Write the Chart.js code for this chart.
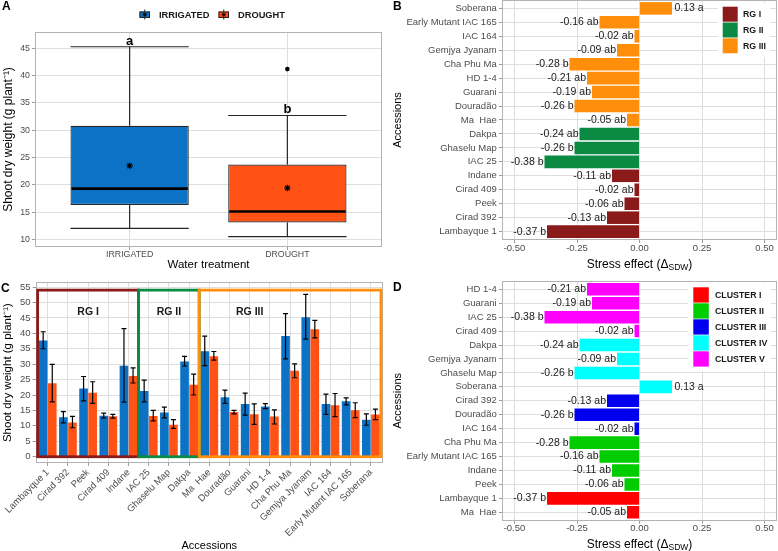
<!DOCTYPE html>
<html>
<head>
<meta charset="utf-8">
<title>Shoot dry weight and drought stress effect</title>
<script src="https://cdn.jsdelivr.net/npm/chart.js@4.4.1/dist/chart.umd.min.js"></script>
<style>
  html, body { margin:0; padding:0; background:#ffffff; }
  body { position:relative; width:778px; height:551px; overflow:hidden; }
  canvas { position:absolute; }
</style>
</head>
<body>
<canvas id="panelA" width="389" height="272" style="left:0;top:0"></canvas>
<canvas id="panelB" width="389" height="272" style="left:389px;top:0"></canvas>
<canvas id="panelC" width="389" height="283" style="left:0;top:270px"></canvas>
<canvas id="panelD" width="389" height="283" style="left:389px;top:270px"></canvas>
<script>
// ---------------- Panel A : boxplot summary ----------------
const treatments = ['IRRIGATED', 'DROUGHT'];
const sdwMin = [12.0, 10.5];
const sdwQ1 = [16.3, 13.1];
const sdwMedian = [19.3, 15.1];
const sdwQ3 = [30.8, 23.7];
const sdwMax = [45.3, 32.7];
const sdwMean = [23.5, 19.4];
const sdwOutliers = [[], [41.2]];
const treatmentLetters = ['a', 'b'];
const sdwTicks = [10, 15, 20, 25, 30, 35, 40, 45];

// ---------------- Panel C : accession means ± error ----------------
const accessionsC = ['Lambayque 1', 'Cirad 392', 'Peek', 'Cirad 409', 'Indane', 'IAC 25', 'Ghaselu Map', 'Dakpa',
  'Ma  Hae', 'Douradão', 'Guarani', 'HD 1-4', 'Cha Phu Ma', 'Gemjya Jyanam', 'IAC 164', 'Early Mutant IAC 165', 'Soberana'];
const groupC = [0, 0, 0, 0, 0, 1, 1, 1, 2, 2, 2, 2, 2, 2, 2, 2, 2];
const irrigatedMean = [37.7, 12.8, 22.1, 13.3, 29.5, 21.3, 14.3, 30.9, 34.2, 19.3, 17.1, 16.3, 39.1, 45.2, 17.1, 18.0, 12.0];
const irrigatedLow  = [35.0, 11.0, 18.1, 12.5, 17.7, 17.8, 12.6, 29.4, 29.5, 17.3, 13.5, 15.6, 31.7, 38.1, 13.7, 16.8, 10.2];
const irrigatedHigh = [40.5, 14.6, 26.0, 14.1, 41.5, 24.8, 16.1, 32.5, 39.1, 21.6, 20.6, 17.2, 46.4, 52.6, 20.3, 19.1, 13.9];
const droughtMean   = [23.8, 11.1, 20.7, 13.1, 26.2, 13.2, 10.4, 23.3, 32.6, 14.5, 13.8, 13.0, 27.9, 41.3, 16.7, 15.1, 13.7];
const droughtLow    = [17.8, 9.4, 17.3, 12.5, 23.9, 11.6, 9.2, 20.0, 31.3, 13.9, 10.5, 10.6, 25.6, 38.5, 13.0, 12.7, 12.0];
const droughtHigh   = [29.9, 13.1, 24.3, 13.7, 28.8, 15.0, 12.0, 26.8, 34.1, 15.0, 17.1, 15.2, 30.1, 44.2, 20.5, 17.5, 15.4];
const weightTicks = [0, 5, 10, 15, 20, 25, 30, 35, 40, 45, 50, 55];
const rgNames = ['RG I', 'RG II', 'RG III'];

// ---------------- Panel B : stress effect by RG ----------------
const accessionsB = ['Soberana', 'Early Mutant IAC 165', 'IAC 164', 'Gemjya Jyanam', 'Cha Phu Ma', 'HD 1-4', 'Guarani',
  'Douradão', 'Ma  Hae', 'Dakpa', 'Ghaselu Map', 'IAC 25', 'Indane', 'Cirad 409', 'Peek', 'Cirad 392', 'Lambayque 1'];
const stressB = [0.13, -0.16, -0.02, -0.09, -0.28, -0.21, -0.19, -0.26, -0.05, -0.24, -0.26, -0.38, -0.11, -0.02, -0.06, -0.13, -0.37];
const lettersB = ['a', 'ab', 'ab', 'ab', 'b', 'ab', 'ab', 'b', 'ab', 'ab', 'b', 'b', 'ab', 'ab', 'ab', 'ab', 'b'];
const groupB = [2, 2, 2, 2, 2, 2, 2, 2, 2, 1, 1, 1, 0, 0, 0, 0, 0];

// ---------------- Panel D : stress effect by cluster ----------------
const accessionsD = ['HD 1-4', 'Guarani', 'IAC 25', 'Cirad 409', 'Dakpa', 'Gemjya Jyanam', 'Ghaselu Map', 'Soberana',
  'Cirad 392', 'Douradão', 'IAC 164', 'Cha Phu Ma', 'Early Mutant IAC 165', 'Indane', 'Peek', 'Lambayque 1', 'Ma  Hae'];
const stressD = [-0.21, -0.19, -0.38, -0.02, -0.24, -0.09, -0.26, 0.13, -0.13, -0.26, -0.02, -0.28, -0.16, -0.11, -0.06, -0.37, -0.05];
const lettersD = ['ab', 'ab', 'b', 'ab', 'ab', 'ab', 'b', 'a', 'ab', 'b', 'ab', 'b', 'ab', 'ab', 'ab', 'b', 'ab'];
const clusterD = [4, 4, 4, 4, 3, 3, 3, 3, 2, 2, 2, 1, 1, 1, 1, 0, 0];
const clusterNames = ['CLUSTER I', 'CLUSTER II', 'CLUSTER III', 'CLUSTER IV', 'CLUSTER V'];
const stressTicks = [-0.5, -0.25, 0, 0.25, 0.5];

// ---------------- styles ----------------
const FONT = "'Liberation Sans', Arial, Helvetica, sans-serif";
Chart.defaults.font.family = FONT;
Chart.defaults.color = '#4d4d4d';
Chart.defaults.animation = false;
Chart.defaults.plugins.legend.display = false;
Chart.defaults.plugins.tooltip.enabled = false;

const GRID_COLOR = '#dedede';
const BORDER_COLOR = '#b3b3b3';
const TICK_COLOR = '#9a9a9a';
const IRR_COLOR = '#0b72c5';
const DRO_COLOR = '#ff5214';
const RG_COLORS = ['#8b1a1a', '#0b8a43', '#ff8e0b'];
const CLUSTER_COLORS = ['#ff0000', '#00cc00', '#0000ee', '#00ffff', '#ff00ff'];
const RG_ANNOT = { boxTop: 54, labelY: 47, labelX: [3, 7, 11] };

function zeroPad(s) { s.paddingLeft = 0; s.paddingRight = 0; s.paddingTop = 0; s.paddingBottom = 0; }
function fixWidth(w) { return s => { s.width = w; zeroPad(s); }; }
function fixHeight(h) { return s => { s.height = h; zeroPad(s); }; }
function setTicks(vals) { return s => { s.ticks = vals.map(v => ({ value: v })); }; }
function gridOpts() {
  return { color: GRID_COLOR, lineWidth: 1, drawTicks: true, tickLength: 3, tickColor: TICK_COLOR, tickWidth: 1, offset: false };
}

const framePlugin = {
  id: 'frame',
  afterDatasetsDraw(chart) {
    const { ctx, chartArea: a } = chart;
    ctx.save();
    ctx.strokeStyle = BORDER_COLOR; ctx.lineWidth = 1;
    ctx.strokeRect(Math.round(a.left) + 0.5, Math.round(a.top) + 0.5,
      Math.round(a.right - a.left) - 1, Math.round(a.bottom - a.top) - 1);
    ctx.restore();
  }
};

function panelLetter(t, x, y) {
  return {
    id: 'panelLetter',
    afterDraw(chart) {
      const c = chart.ctx;
      c.save(); c.font = 'bold 12px ' + FONT; c.fillStyle = '#000';
      c.textAlign = 'left'; c.textBaseline = 'alphabetic'; c.fillText(t, x, y); c.restore();
    }
  };
}

function drawStar(ctx, x, y, r) {
  const d = r * 0.7071;
  ctx.beginPath();
  ctx.moveTo(x - r, y); ctx.lineTo(x + r, y);
  ctx.moveTo(x, y - r); ctx.lineTo(x, y + r);
  ctx.moveTo(x - d, y - d); ctx.lineTo(x + d, y + d);
  ctx.moveTo(x - d, y + d); ctx.lineTo(x + d, y - d);
  ctx.stroke();
}

function line(ctx, x1, y1, x2, y2) { ctx.beginPath(); ctx.moveTo(x1, y1); ctx.lineTo(x2, y2); ctx.stroke(); }

// ---------------- Panel A ----------------
const boxplotPlugin = {
  id: 'boxplotExtras',
  afterDatasetsDraw(chart) {
    const { ctx } = chart; const ys = chart.scales.y;
    const meta = chart.getDatasetMeta(0);
    ctx.save();
    meta.data.forEach((bar, i) => {
      const cx = bar.x, half = bar.width / 2;
      const yMin = ys.getPixelForValue(sdwMin[i]), yMax = ys.getPixelForValue(sdwMax[i]);
      const yQ1 = ys.getPixelForValue(sdwQ1[i]), yQ3 = ys.getPixelForValue(sdwQ3[i]);
      ctx.strokeStyle = '#262626'; ctx.lineWidth = 1.2;
      line(ctx, cx, yQ3, cx, yMax); line(ctx, cx, yQ1, cx, yMin);
      line(ctx, cx - half, yMax, cx + half, yMax); line(ctx, cx - half, yMin, cx + half, yMin);
      ctx.strokeStyle = '#000'; ctx.lineWidth = 2.6;
      const yMed = ys.getPixelForValue(sdwMedian[i]);
      line(ctx, cx - half + 1, yMed, cx + half - 1, yMed);
      ctx.lineWidth = 1.1;
      drawStar(ctx, cx, ys.getPixelForValue(sdwMean[i]), 3.3);
      ctx.fillStyle = '#000';
      sdwOutliers[i].forEach(v => {
        ctx.beginPath(); ctx.arc(cx, ys.getPixelForValue(v), 2.3, 0, Math.PI * 2); ctx.fill();
      });
      ctx.font = 'bold 13px ' + FONT; ctx.textAlign = 'center'; ctx.textBaseline = 'alphabetic';
      ctx.fillText(treatmentLetters[i], cx, yMax - 2);
    });
    ctx.restore();
  }
};

const legendA = {
  id: 'legendA',
  afterDraw(chart) {
    const ctx = chart.ctx;
    const items = [{ x: 139.5, tx: 159, color: IRR_COLOR }, { x: 218.5, tx: 238, color: DRO_COLOR }];
    ctx.save();
    items.forEach((it, i) => {
      ctx.strokeStyle = '#222'; ctx.lineWidth = 1;
      line(ctx, it.x + 5.25, 9.5, it.x + 5.25, 19.5);
      ctx.fillStyle = it.color; ctx.fillRect(it.x, 11.5, 10.5, 6.5);
      ctx.strokeRect(it.x + 0.5, 12, 9.5, 5.5);
      ctx.strokeStyle = '#000'; ctx.lineWidth = 0.9;
      drawStar(ctx, it.x + 5.25, 14.7, 2.2);
      ctx.fillStyle = '#1a1a1a'; ctx.font = 'bold 9.3px ' + FONT;
      ctx.textAlign = 'left'; ctx.textBaseline = 'middle';
      ctx.fillText(treatments[i], it.tx, 15);
    });
    ctx.restore();
  }
};

new Chart(document.getElementById('panelA'), {
  type: 'bar',
  data: {
    labels: treatments,
    datasets: [{
      label: 'Shoot dry weight',
      data: treatments.map((t, i) => ({ x: i + 1, y: [sdwQ1[i], sdwQ3[i]] })),
      backgroundColor: [IRR_COLOR, DRO_COLOR],
      borderColor: '#262626', borderWidth: 1.2, borderSkipped: false,
      categoryPercentage: 0.75, barPercentage: 1
    }]
  },
  options: {
    responsive: false,
    layout: { padding: { top: 32, right: 7, bottom: 0, left: 0 } },
    scales: {
      x: {
        type: 'linear', min: 0.4, max: 2.6, offset: false,
        afterBuildTicks: setTicks(treatments.map((t, i) => i + 1)),
        afterFit: fixHeight(25),
        grid: gridOpts(), border: { display: false },
        ticks: { autoSkip: false, maxRotation: 0, padding: 0, font: { size: 8.8, lineHeight: 1 },
          callback: v => treatments[Math.round(v) - 1] },
        title: { display: true, text: 'Water treatment', color: '#000', font: { size: 11.5 }, padding: { top: 0, bottom: 0 } }
      },
      y: {
        type: 'linear', min: 8.6, max: 48,
        afterBuildTicks: setTicks(sdwTicks), afterFit: fixWidth(35),
        grid: gridOpts(), border: { display: false },
        ticks: { padding: 2, font: { size: 8.8 }, callback: v => String(v) },
        title: { display: true, text: 'Shoot dry weight (g plant⁻¹)', color: '#000', font: { size: 12 }, padding: { top: 1.1, bottom: 0 } }
      }
    }
  },
  plugins: [framePlugin, boxplotPlugin, legendA, panelLetter('A', 2, 10)]
});

// ---------------- Panel C ----------------
const rgBoxesPlugin = {
  id: 'rgBoxes',
  afterDatasetsDraw(chart) {
    const { ctx } = chart, xs = chart.scales.x, ys = chart.scales.y;
    ctx.save();
    rgNames.forEach((name, g) => {
      const idx = groupC.map((v, i) => v === g ? i + 1 : null).filter(v => v !== null);
      const first = Math.min(...idx), last = Math.max(...idx);
      const x0 = xs.getPixelForValue(first - 0.5), x1 = xs.getPixelForValue(last + 0.5);
      const y0 = ys.getPixelForValue(0), y1 = ys.getPixelForValue(RG_ANNOT.boxTop);
      ctx.strokeStyle = RG_COLORS[g]; ctx.lineWidth = 2.8;
      ctx.strokeRect(x0, y1, x1 - x0, y0 - y1);
    });
    rgNames.forEach((name, g) => {
      ctx.fillStyle = '#1a1a1a'; ctx.font = 'bold 10.5px ' + FONT;
      ctx.textAlign = 'center'; ctx.textBaseline = 'middle';
      ctx.fillText(name, xs.getPixelForValue(RG_ANNOT.labelX[g]), ys.getPixelForValue(RG_ANNOT.labelY));
    });
    ctx.restore();
  }
};

const errorBarPlugin = {
  id: 'errorBars',
  afterDatasetsDraw(chart) {
    const { ctx } = chart; const ys = chart.scales.y;
    const lows = [irrigatedLow, droughtLow], highs = [irrigatedHigh, droughtHigh];
    ctx.save(); ctx.strokeStyle = '#000'; ctx.lineWidth = 1.2;
    chart.data.datasets.forEach((ds, d) => {
      chart.getDatasetMeta(d).data.forEach((bar, i) => {
        const x = bar.x, y1 = ys.getPixelForValue(lows[d][i]), y2 = ys.getPixelForValue(highs[d][i]);
        ctx.beginPath();
        ctx.moveTo(x, y1); ctx.lineTo(x, y2);
        ctx.moveTo(x - 2.5, y1); ctx.lineTo(x + 2.5, y1);
        ctx.moveTo(x - 2.5, y2); ctx.lineTo(x + 2.5, y2);
        ctx.stroke();
      });
    });
    ctx.restore();
  }
};

new Chart(document.getElementById('panelC'), {
  type: 'bar',
  data: {
    labels: accessionsC,
    datasets: [
      { label: 'IRRIGATED', data: accessionsC.map((n, i) => ({ x: i + 1, y: irrigatedMean[i] })),
        backgroundColor: IRR_COLOR, borderWidth: 0, categoryPercentage: 0.9, barPercentage: 0.95 },
      { label: 'DROUGHT', data: accessionsC.map((n, i) => ({ x: i + 1, y: droughtMean[i] })),
        backgroundColor: DRO_COLOR, borderWidth: 0, categoryPercentage: 0.9, barPercentage: 0.95 }
    ]
  },
  options: {
    responsive: false,
    layout: { padding: { top: 12.4, right: 6, bottom: 0, left: 0 } },
    scales: {
      x: {
        type: 'linear', min: 0.4, max: accessionsC.length + 0.6, offset: false,
        afterBuildTicks: setTicks(accessionsC.map((n, i) => i + 1)),
        afterFit: fixHeight(90.1),
        grid: gridOpts(), border: { display: false },
        ticks: { autoSkip: false, minRotation: 45, maxRotation: 45, padding: 1, font: { size: 9.5 },
          callback: v => accessionsC[Math.round(v) - 1] },
        title: { display: true, text: 'Accessions', color: '#000', font: { size: 11 }, padding: { top: 0, bottom: 0.4 } }
      },
      y: {
        type: 'linear', min: -2, max: 56.5,
        afterBuildTicks: setTicks(weightTicks), afterFit: fixWidth(35.6),
        grid: gridOpts(), border: { display: false },
        ticks: { padding: 2, font: { size: 9.5 }, callback: v => String(v) },
        title: { display: true, text: 'Shoot dry weight (g plant⁻¹)', color: '#000', font: { size: 11.5 }, padding: { top: 1.4, bottom: 0 } }
      }
    }
  },
  plugins: [framePlugin, rgBoxesPlugin, errorBarPlugin, panelLetter('C', 1, 21.7)]
});

// ---------------- Panels B & D ----------------
function barLabelPlugin(values, letters) {
  return {
    id: 'barLabels',
    afterDatasetsDraw(chart) {
      const ctx = chart.ctx; const meta = chart.getDatasetMeta(0);
      ctx.save(); ctx.font = '10.5px ' + FONT; ctx.fillStyle = '#1a1a1a'; ctx.textBaseline = 'middle';
      meta.data.forEach((bar, i) => {
        const v = values[i]; const txt = v.toFixed(2) + ' ' + letters[i];
        if (v < 0) { ctx.textAlign = 'right'; ctx.fillText(txt, bar.x - 1, bar.y); }
        else { ctx.textAlign = 'left'; ctx.fillText(txt, bar.x + 2.5, bar.y); }
      });
      ctx.restore();
    }
  };
}

function subTitlePlugin(baseline) {
  return {
    id: 'subTitle',
    afterDraw(chart) {
      const { ctx, chartArea: a } = chart;
      const main = '12px ' + FONT, sub = '8.5px ' + FONT;
      const p1 = 'Stress effect (Δ', p2 = 'SDW', p3 = ')';
      ctx.save(); ctx.fillStyle = '#000'; ctx.textBaseline = 'alphabetic'; ctx.textAlign = 'left';
      ctx.font = main; const w1 = ctx.measureText(p1).width, w3 = ctx.measureText(p3).width;
      ctx.font = sub; const w2 = ctx.measureText(p2).width;
      let x = (a.left + a.right) / 2 - (w1 + w2 + w3) / 2;
      ctx.font = main; ctx.fillText(p1, x, baseline); x += w1;
      ctx.font = sub; ctx.fillText(p2, x, baseline + 2.8); x += w2;
      ctx.font = main; ctx.fillText(p3, x, baseline);
      ctx.restore();
    }
  };
}

function legendPlugin(names, colors, spec) {
  return {
    id: 'groupLegend',
    afterDraw(chart) {
      const ctx = chart.ctx;
      ctx.save();
      ctx.fillStyle = '#ffffff';
      ctx.fillRect(spec.bg[0], spec.bg[1], spec.bg[2], spec.bg[3]);
      names.forEach((n, i) => {
        const y = spec.y0 + i * spec.step;
        ctx.fillStyle = colors[i]; ctx.fillRect(spec.x, y, spec.w, spec.h);
        ctx.fillStyle = '#1a1a1a'; ctx.font = 'bold 8.8px ' + FONT;
        ctx.textAlign = 'left'; ctx.textBaseline = 'middle';
        ctx.fillText(n, spec.tx, y + spec.h / 2 + 0.5);
      });
      ctx.restore();
    }
  };
}

function makeStressChart(id, names, values, letters, colors, cfg) {
  return new Chart(document.getElementById(id), {
    type: 'bar',
    data: {
      labels: names,
      datasets: [{
        label: 'Stress effect',
        data: names.map((n, i) => ({ x: values[i], y: i + 1 })),
        backgroundColor: colors, borderWidth: 0, categoryPercentage: 0.9, barPercentage: 1
      }]
    },
    options: {
      responsive: false, indexAxis: 'y',
      layout: { padding: { top: cfg.top, right: 1, bottom: 0, left: 0 } },
      scales: {
        x: {
          type: 'linear', min: -0.55, max: 0.55, offset: false,
          afterBuildTicks: setTicks(stressTicks), afterFit: fixHeight(cfg.xHeight),
          grid: gridOpts(), border: { display: false },
          ticks: { padding: cfg.xTickPad, font: { size: 9.5, lineHeight: 1 }, callback: v => v.toFixed(2) }
        },
        y: {
          type: 'linear', reverse: true, min: 0.4, max: names.length + 0.6, offset: false,
          afterBuildTicks: setTicks(names.map((n, i) => i + 1)), afterFit: fixWidth(113),
          grid: gridOpts(), border: { display: false },
          ticks: { autoSkip: false, padding: 2.3, font: { size: 9.5 }, callback: v => names[Math.round(v) - 1] },
          title: { display: true, text: 'Accessions', color: '#000', font: { size: 11 }, padding: { top: 2.7, bottom: 0 } }
        }
      }
    },
    plugins: [framePlugin, barLabelPlugin(values, letters), subTitlePlugin(cfg.titleBaseline),
      legendPlugin(cfg.legendNames, cfg.legendColors, cfg.legend), panelLetter(cfg.letter, 4, cfg.letterY)]
  });
}

makeStressChart('panelB', accessionsB, stressB, lettersB, groupB.map(g => RG_COLORS[g]), {
  top: 0, xHeight: 32, xTickPad: 0.5, titleBaseline: 267.5, letter: 'B', letterY: 10,
  legendNames: rgNames, legendColors: RG_COLORS,
  legend: { bg: [329, 3, 52, 54], x: 333.7, y0: 6.7, step: 15.8, w: 15, h: 15, tx: 354 }
});

makeStressChart('panelD', accessionsD, stressD, lettersD, clusterD.map(c => CLUSTER_COLORS[c]), {
  top: 10.9, xHeight: 32.3, xTickPad: 0, titleBaseline: 277.6, letter: 'D', letterY: 20.5,
  legendNames: clusterNames, legendColors: CLUSTER_COLORS,
  legend: { bg: [299, 13, 83, 88], x: 304.3, y0: 17.3, step: 16, w: 15.5, h: 15.3, tx: 326 }
});
</script>
</body>
</html>
